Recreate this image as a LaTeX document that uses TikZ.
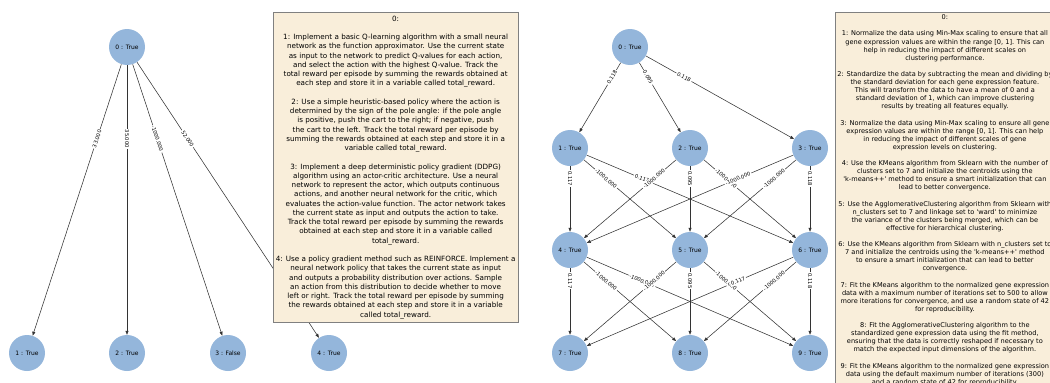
\documentclass[tikz,border=0pt]{standalone}
\usepackage{fontspec}
\setmainfont{DejaVu Sans}
\usetikzlibrary{arrows.meta}
\definecolor{nodeblue}{RGB}{148,182,219}
\definecolor{boxfill}{RGB}{249,238,218}
\definecolor{boxline}{RGB}{128,128,128}
\pgfdeclarelayer{edgelayer}
\pgfsetlayers{edgelayer,main}
\newcommand\elab[3]{\path (#1.center) -- node[elabel]{#3} (#2.center);}
\newcommand\sq{\textquotesingle}
\begin{document}
\begin{tikzpicture}[x=1pt,y=-1pt,
  gnode/.style={circle, fill=nodeblue, minimum size=36pt, inner sep=0pt, font=\fontsize{6}{7}\selectfont},
  edge/.style={draw=black!80, line width=0.55pt, -{Triangle[length=4pt,width=3pt]}},
  elabel/.style={fill=white, inner sep=1.1pt, font=\fontsize{5.2}{6}\selectfont, sloped, pos=0.3},
  infobox/.style={draw=boxline, fill=boxfill, line width=0.7pt, align=center}
]
\useasboundingbox (0,0) rectangle (1050,383);
\clip (0,0) rectangle (1050,383);

% left graph nodes
\node[gnode] (L0) at (127,47) {0 : True};
\node[gnode] (L1) at (27,353) {1 : True};
\node[gnode] (L2) at (127,353) {2 : True};
\node[gnode] (L3) at (228,353) {3 : False};
\node[gnode] (L4) at (329,353) {4 : True};

% right graph nodes
\node[gnode] (R0) at (630,47) {0 : True};
\node[gnode] (R1) at (570,148) {1 : True};
\node[gnode] (R2) at (690,148) {2 : True};
\node[gnode] (R3) at (810,148) {3 : True};
\node[gnode] (R4) at (570,250) {4 : True};
\node[gnode] (R5) at (690,250) {5 : True};
\node[gnode] (R6) at (810,250) {6 : True};
\node[gnode] (R7) at (570,353) {7 : True};
\node[gnode] (R8) at (690,353) {8 : True};
\node[gnode] (R9) at (810,353) {9 : True};

\begin{pgfonlayer}{edgelayer}
\foreach \t in {1,2,3,4} {\draw[edge] (L0) -- (L\t);}
\foreach \t in {1,2,3} {\draw[edge] (R0) -- (R\t);}
\foreach \s in {1,2,3} {\foreach \t in {4,5,6} {\draw[edge] (R\s) -- (R\t);}}
\foreach \s in {4,5,6} {\foreach \t in {7,8,9} {\draw[edge] (R\s) -- (R\t);}}
\end{pgfonlayer}

% edge labels
\elab{L0}{L1}{33.000}
\elab{L0}{L2}{35.000}
\elab{L0}{L3}{-1000.000}
\elab{L0}{L4}{52.000}

\elab{R0}{R1}{0.118}
\elab{R0}{R2}{0.095}
\elab{R0}{R3}{0.118}
\elab{R1}{R4}{0.117}
\elab{R1}{R5}{-1000.000}
\elab{R1}{R6}{0.117}
\elab{R2}{R4}{-1000.000}
\elab{R2}{R5}{0.095}
\elab{R2}{R6}{-1000.000}
\elab{R3}{R4}{-1000.000}
\elab{R3}{R5}{-1000.000}
\elab{R3}{R6}{0.118}
\elab{R4}{R7}{0.117}
\elab{R4}{R8}{-1000.000}
\elab{R4}{R9}{-1000.000}
\elab{R5}{R7}{-1000.000}
\elab{R5}{R8}{0.095}
\elab{R5}{R9}{-1000.000}
\elab{R6}{R7}{0.117}
\elab{R6}{R8}{-1000.000}
\elab{R6}{R9}{0.118}

% left info box
\node[infobox, anchor=north west, inner xsep=2.5pt, minimum height=305pt,
      font=\fontsize{7.2}{9.25}\selectfont] (lbox) at (273,12) {%
0:\\[9.25pt]
1: Implement a basic Q-learning algorithm with a small neural\\
network as the function approximator. Use the current state\\
as input to the network to predict Q-values for each action,\\
and select the action with the highest Q-value. Track the\\
total reward per episode by summing the rewards obtained at\\
each step and store it in a variable called total\_reward.\\[9.25pt]
2: Use a simple heuristic-based policy where the action is\\
determined by the sign of the pole angle: if the pole angle\\
is positive, push the cart to the right; if negative, push\\
the cart to the left. Track the total reward per episode by\\
summing the rewards obtained at each step and store it in a\\
variable called total\_reward.\\[9.25pt]
3: Implement a deep deterministic policy gradient (DDPG)\\
algorithm using an actor-critic architecture. Use a neural\\
network to represent the actor, which outputs continuous\\
actions, and another neural network for the critic, which\\
evaluates the action-value function. The actor network takes\\
the current state as input and outputs the action to take.\\
Track the total reward per episode by summing the rewards\\
obtained at each step and store it in a variable called\\
total\_reward.\\[9.25pt]
4: Use a policy gradient method such as REINFORCE. Implement a\\
neural network policy that takes the current state as input\\
and outputs a probability distribution over actions. Sample\\
an action from this distribution to decide whether to move\\
left or right. Track the total reward per episode by summing\\
the rewards obtained at each step and store it in a variable\\
called total\_reward.};

% right info box
\node[infobox, anchor=north west, inner xsep=2pt, inner ysep=2.5pt,
      font=\fontsize{6.6}{8.1}\selectfont] (rbox) at (835,12) {%
0:\\[8.1pt]
1: Normalize the data using Min-Max scaling to ensure that all\\
gene expression values are within the range [0, 1]. This can\\
help in reducing the impact of different scales on\\
clustering performance.\\[8.1pt]
2: Standardize the data by subtracting the mean and dividing by\\
the standard deviation for each gene expression feature.\\
This will transform the data to have a mean of 0 and a\\
standard deviation of 1, which can improve clustering\\
results by treating all features equally.\\[8.1pt]
3: Normalize the data using Min-Max scaling to ensure all gene\\
expression values are within the range [0, 1]. This can help\\
in reducing the impact of different scales of gene\\
expression levels on clustering.\\[8.1pt]
4: Use the KMeans algorithm from Sklearn with the number of\\
clusters set to 7 and initialize the centroids using the\\
\sq k-means++\sq{} method to ensure a smart initialization that can\\
lead to better convergence.\\[8.1pt]
5: Use the AgglomerativeClustering algorithm from Sklearn with\\
n\_clusters set to 7 and linkage set to \sq ward\sq{} to minimize\\
the variance of the clusters being merged, which can be\\
effective for hierarchical clustering.\\[8.1pt]
6: Use the KMeans algorithm from Sklearn with n\_clusters set to\\
7 and initialize the centroids using the \sq k-means++\sq{} method\\
to ensure a smart initialization that can lead to better\\
convergence.\\[8.1pt]
7: Fit the KMeans algorithm to the normalized gene expression\\
data with a maximum number of iterations set to 500 to allow\\
more iterations for convergence, and use a random state of 42\\
for reproducibility.\\[8.1pt]
8: Fit the AgglomerativeClustering algorithm to the\\
standardized gene expression data using the fit method,\\
ensuring that the data is correctly reshaped if necessary to\\
match the expected input dimensions of the algorithm.\\[8.1pt]
9: Fit the KMeans algorithm to the normalized gene expression\\
data using the default maximum number of iterations (300)\\
and a random state of 42 for reproducibility.};
\end{tikzpicture}
\end{document}
